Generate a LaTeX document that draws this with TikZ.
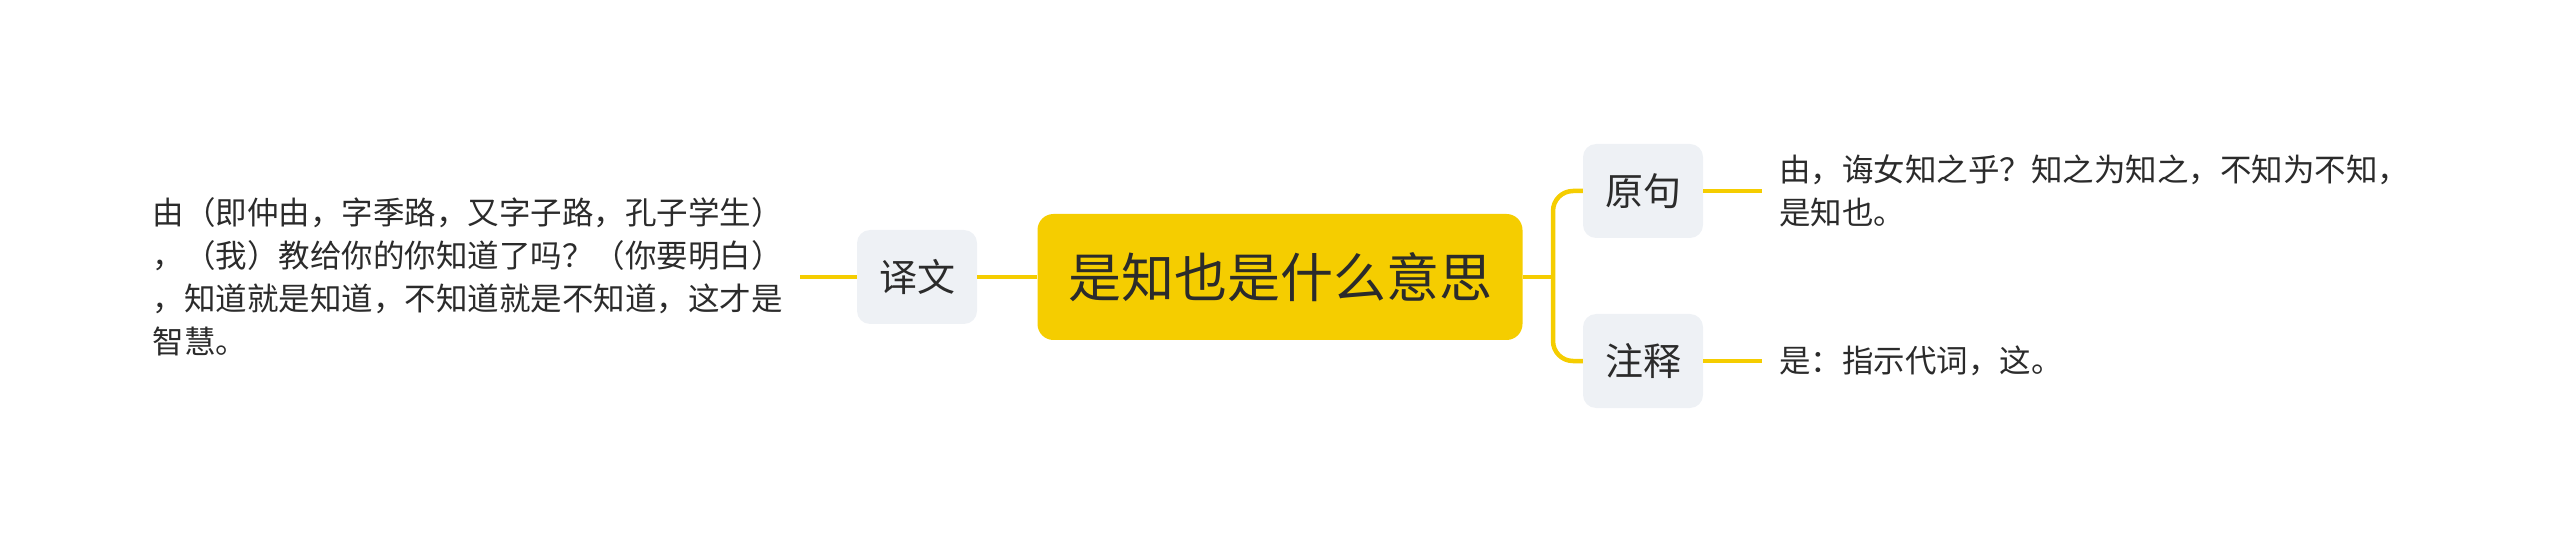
\documentclass[tikz,border=0pt]{standalone}
\usepackage{fontspec}
\setmainfont{Noto Sans CJK SC}
\usetikzlibrary{positioning,calc}
\definecolor{mmyellow}{HTML}{F5CD00}
\definecolor{mmgrey}{HTML}{EEF1F5}
\definecolor{mmtext}{HTML}{2B2B2B}
\tikzset{
  root/.style={fill=mmyellow, rounded corners=16pt, minimum width=485pt, minimum height=126pt, inner sep=0pt, text=mmtext, font=\fontsize{53}{60}\selectfont},
  topic/.style={fill=mmgrey, rounded corners=13pt, minimum width=120pt, minimum height=94pt, inner sep=0pt, text=mmtext, font=\fontsize{38}{44}\selectfont},
  leaf/.style={align=left, inner xsep=17pt, inner ysep=0pt, text=mmtext, font=\fontsize{31.5}{43}\selectfont},
  link/.style={draw=mmyellow, line width=4.5pt},
}

\begin{document}
\begin{tikzpicture}[x=1pt,y=-1pt]
  \useasboundingbox (0,0) rectangle (2560,545);
  % centre and first level
  \node[root] (root) at (1280,277) {是知也是什么意思};
  \node[topic] (yiwen) at (917,277) {译文};
  \node[topic] (yuanju) at (1643,191) {原句};
  \node[topic] (zhushi) at (1643,361) {注释};
  % leaves
  \node[leaf, anchor=east] (txtyiwen) at (800,277) {由（即仲由，字季路，又字子路，孔子学生）\\，（我）教给你的你知道了吗？（你要明白）\\，知道就是知道，不知道就是不知道，这才是\\智慧。};
  \node[leaf, anchor=west] (txtyuanju) at (1762,191) {由，诲女知之乎？知之为知之，不知为不知，\\是知也。};
  \node[leaf, anchor=west] (txtzhushi) at (1762,361) {是：指示代词，这。};
  % connectors
  \coordinate (fork) at (1553,277);
  \draw[link] (root.west) -- (yiwen.east);
  \draw[link] (yiwen.west) -- (yiwen.west -| txtyiwen.east);
  \draw[link] (root.east) -- (fork);
  \draw[link, rounded corners=20pt] (yuanju.west) -| (fork) |- (zhushi.west);
  \draw[link] (yuanju.east) -- (txtyuanju.west);
  \draw[link] (zhushi.east) -- (txtzhushi.west);
\end{tikzpicture}
\end{document}
